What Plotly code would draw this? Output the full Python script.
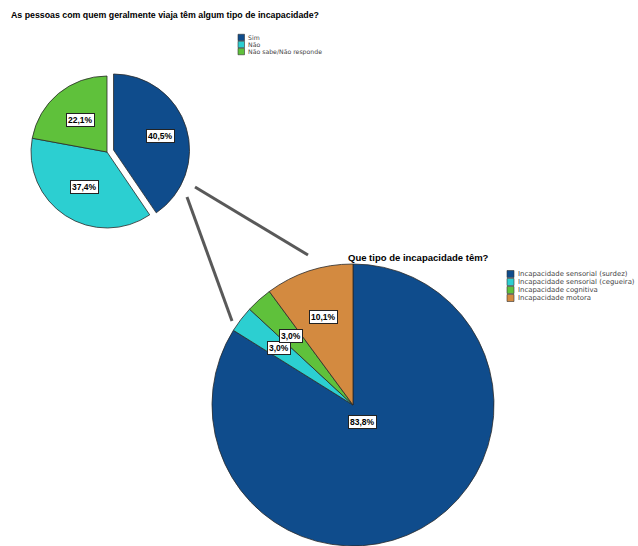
import math
import plotly.graph_objects as go

# ---- data ----
title_main = "As pessoas com quem geralmente viaja têm algum tipo de incapacidade?"
title_sub = "Que tipo de incapacidade têm?"
main_labels = ["Sim", "Não", "Não sabe/Não responde"]
main_values = [40.5, 37.4, 22.1]
sub_labels = ["Incapacidade sensorial (surdez)", "Incapacidade sensorial (cegueira)",
              "Incapacidade cognitiva", "Incapacidade motora"]
sub_values = [83.8, 3.0, 3.0, 10.1]

# ---- styles / layout ----
W, H = 638, 546
main_colors = ["#0f4c8c", "#2ccfd1", "#5fc13b"]
sub_colors = ["#0f4c8c", "#2ccfd1", "#5fc13b", "#d38a40"]
FONT = "Liberation Sans, Arial, sans-serif"
LEGFONT = "DejaVu Sans, Verdana, sans-serif"

# small pie geometry (pixels)
s_cx, s_cy, s_r, s_pull = 107, 152, 76, 0.09
# big pie geometry (pixels)
b_cx, b_cy, b_r = 353, 405, 141

main_label_frac = [0.64, 0.55, 0.55]
sub_label_frac = [0.14, 0.66, 0.66, 0.66]


def px(x):
    return x / W


def py(y):
    return 1 - y / H


def fmt(v):
    return f"{v:.1f}".replace(".", ",") + "%"


s_half = s_r * (1 + s_pull)
fig = go.Figure()
fig.add_trace(go.Pie(
    labels=main_labels, values=main_values, sort=False, direction="clockwise",
    rotation=0, pull=[s_pull, 0, 0], textinfo="none", hoverinfo="label+percent",
    marker=dict(colors=main_colors, line=dict(color="#2a2a2a", width=0.8)),
    domain=dict(x=[px(s_cx - s_half), px(s_cx + s_half)],
                y=[py(s_cy + s_half), py(s_cy - s_half)]),
    showlegend=False,
))
fig.add_trace(go.Pie(
    labels=sub_labels, values=sub_values, sort=False, direction="clockwise",
    rotation=0, textinfo="none", hoverinfo="label+percent",
    marker=dict(colors=sub_colors, line=dict(color="#2a2a2a", width=0.8)),
    domain=dict(x=[px(b_cx - b_r), px(b_cx + b_r)],
                y=[max(0, py(b_cy + b_r)), py(b_cy - b_r)]),
    showlegend=False,
))

annotations = []
shapes = []


def add_labels(values, fracs, cx, cy, r, pulls):
    total = sum(values)
    cum = 0
    for v, f, p in zip(values, fracs, pulls):
        th = 2 * math.pi * (cum + v / 2) / total
        cum += v
        ox = cx + p * r * math.sin(th)
        oy = cy - p * r * math.cos(th)
        x = ox + f * r * math.sin(th)
        y = oy - f * r * math.cos(th)
        annotations.append(dict(
            x=px(x), y=py(y), xref="paper", yref="paper", text=f"<b>{fmt(v)}</b>",
            showarrow=False, font=dict(family=FONT, size=8.5, color="black"),
            bgcolor="white", bordercolor="#222", borderwidth=1, borderpad=1,
            xanchor="center", yanchor="middle"))


add_labels(main_values, main_label_frac, s_cx, s_cy, s_r, [s_pull, 0, 0])
add_labels(sub_values, sub_label_frac, b_cx, b_cy, b_r, [0, 0, 0, 0])


def add_legend(labels, colors, x0, y0, step, size, fsize):
    for i, (lab, col) in enumerate(zip(labels, colors)):
        yc = y0 + i * step
        shapes.append(dict(type="rect", xref="paper", yref="paper",
                           x0=px(x0), x1=px(x0 + size), y0=py(yc + size / 2), y1=py(yc - size / 2),
                           fillcolor=col, line=dict(color="#333", width=0.6)))
        annotations.append(dict(
            x=px(x0 + size + 1.5), y=py(yc), xref="paper", yref="paper", text=lab,
            showarrow=False, xanchor="left", yanchor="middle",
            font=dict(family=LEGFONT, size=fsize, color="#444")))


add_legend(main_labels, main_colors, 238, 37.5, 7, 6.5, 6.2)
add_legend(sub_labels, sub_colors, 507, 274, 8, 7, 6.9)

# titles
annotations.append(dict(x=px(9), y=py(15), xref="paper", yref="paper", text=f"<b>{title_main}</b>",
                        showarrow=False, xanchor="left", yanchor="middle",
                        font=dict(family=FONT, size=8.8, color="black")))
annotations.append(dict(x=px(346), y=py(257), xref="paper", yref="paper", text=f"<b>{title_sub}</b>",
                        showarrow=False, xanchor="left", yanchor="middle",
                        font=dict(family=FONT, size=9.5, color="black")))

# connector lines
for (x0, y0, x1, y1) in [(195, 187, 308, 255), (187, 197, 232, 321)]:
    shapes.append(dict(type="line", xref="paper", yref="paper",
                       x0=px(x0), y0=py(y0), x1=px(x1), y1=py(y1),
                       line=dict(color="#595959", width=3)))

fig.update_layout(
    width=W, height=H, margin=dict(l=0, r=0, t=0, b=0),
    paper_bgcolor="white", plot_bgcolor="white",
    annotations=annotations, shapes=shapes, showlegend=False,
)
fig.write_html("out.html")
